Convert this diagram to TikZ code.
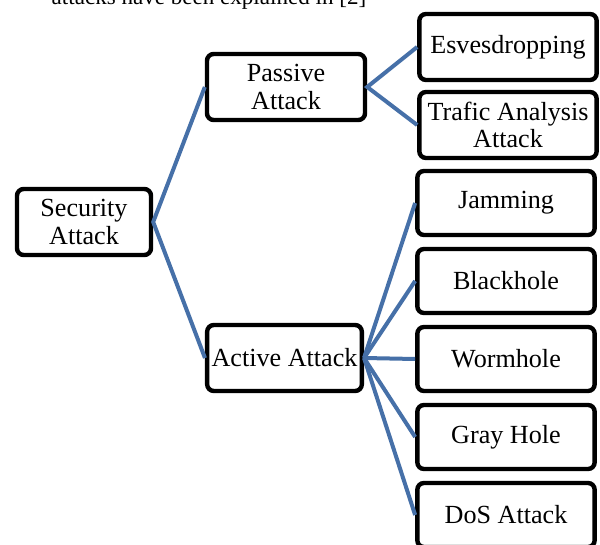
\documentclass[tikz,border=0pt]{standalone}
\usepackage{fontspec}
\setmainfont{Liberation Serif}
\usetikzlibrary{math}
\definecolor{myblue}{RGB}{70,112,168}

\tikzset{
  attack/.style={draw=black, line width=3.3pt, rounded corners=5pt, fill=white,
    align=center, inner sep=0pt, font=\fontsize{19.6}{20.5}\selectfont},
  leaf/.style={attack, minimum width=133pt, minimum height=48pt},
  link/.style={draw=myblue, line width=3pt},
}

\begin{document}
\begin{tikzpicture}[x=0.75pt,y=-0.75pt]
\tikzmath{
\lx=506;%leaf column
\dy=78;%leaf spacing
}
\clip (0,0) rectangle (600,545);

\node[anchor=base west, font=\fontsize{17.3}{20}\selectfont] (intro) at (47,5) {attacks have been explained in [2]};

\node[attack, minimum width=100.5pt, minimum height=49.5pt] (security) at (84,222) {Security\\Attack};
\node[attack, minimum width=118.5pt, minimum height=49.5pt] (passive) at (286,87) {Passive\\Attack};
\node[attack, minimum width=116pt, minimum height=49.5pt] (active) at (284.5,358) {Active Attack};

\node[leaf, minimum height=49.5pt] (eaves) at (508,47) {Esvesdropping};
\node[leaf, minimum height=49.5pt] (trafic) at (508,125) {Trafic Analysis\\Attack};

\node[leaf] (jamming) at (\lx,203) {Jamming};
\node[leaf] (blackhole) at (\lx,203+\dy) {Blackhole};
\node[leaf] (wormhole) at (\lx,203+2*\dy) {Wormhole};
\node[leaf] (grayhole) at (\lx,203+3*\dy) {Gray Hole};
\node[leaf] (dos) at (\lx,203+4*\dy) {DoS Attack};

\draw[link] (passive.west) -- (security.east) -- (active.west);
\draw[link] (eaves.west) -- (passive.east) -- (trafic.west);
\foreach \n in {jamming,blackhole,wormhole,grayhole,dos}
  \draw[link] (active.east) -- (\n.west);

\end{tikzpicture}
\end{document}
